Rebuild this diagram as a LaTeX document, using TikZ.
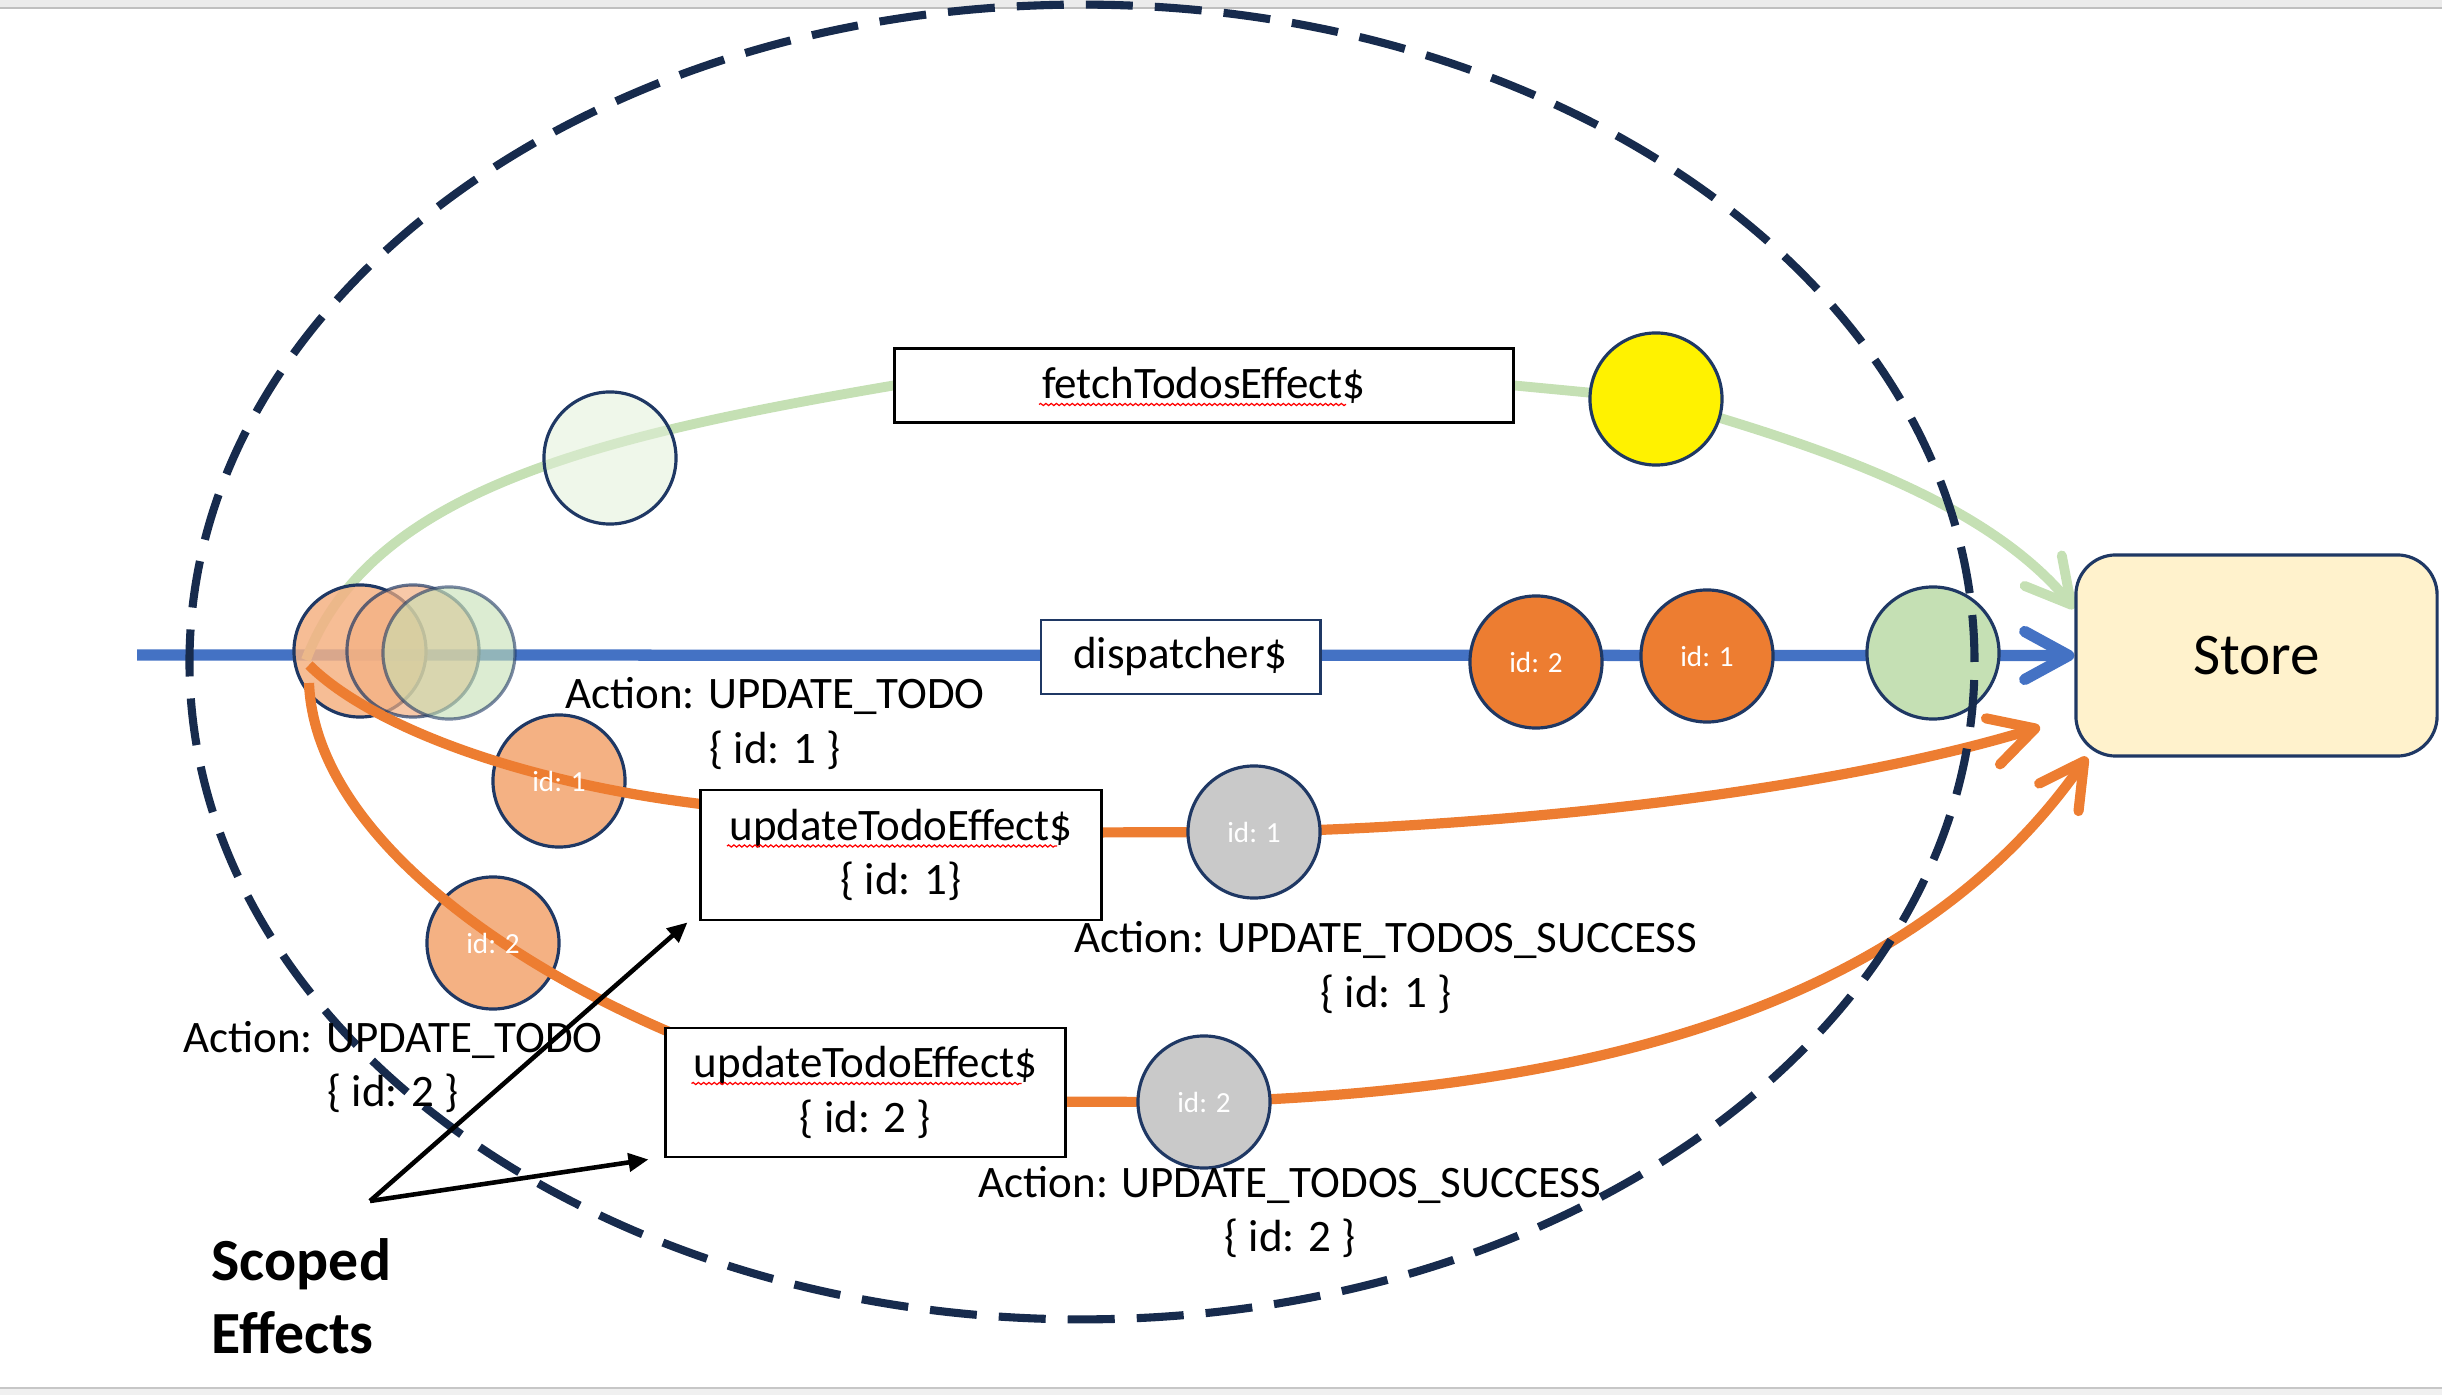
\documentclass[tikz,border=0pt]{standalone}
\usepackage{fontspec}
\setmainfont{Carlito}
\usetikzlibrary{arrows.meta,calc,decorations.pathmorphing}
\definecolor{navy}{HTML}{1F3864}
\definecolor{dashnavy}{HTML}{172B4D}
\definecolor{pblue}{HTML}{4472C4}
\definecolor{pgreen}{HTML}{C5E0B4}
\definecolor{plgreen}{HTML}{E2F0D9}
\definecolor{porange}{HTML}{ED7D31}
\definecolor{plorange}{HTML}{F4B183}
\definecolor{pgray}{HTML}{C9C9C9}
\definecolor{pstore}{HTML}{FFF2CC}
\pgfdeclarelayer{bgband}
\pgfdeclarelayer{lines}
\pgfdeclarelayer{stack}
\pgfdeclarelayer{orangel}
\pgfdeclarelayer{top}
\pgfsetlayers{bgband,lines,stack,orangel,main,top}
\begin{document}
\begin{tikzpicture}[x=0.01cm,y=-0.01cm,
  txt/.style={font=\fontsize{12.8}{15.6}\selectfont,align=center,inner sep=0pt},
  bead/.style={circle,minimum size=1.32cm,inner sep=0pt,draw=navy,line width=0.9pt},
  beadtxt/.style={text=white,font=\fontsize{8.3}{10}\selectfont,inner sep=0pt},
  effbox/.style={draw=black,line width=0.8pt,fill=white,align=center,inner sep=0pt,
                 font=\fontsize{12.8}{15.6}\selectfont},
  openarrow/.style={-{Straight Barb[round,length=4.4mm,width=4.8mm]}},
  blueflow/.style={draw=pblue,line width=3.2pt},
  greenflow/.style={draw=pgreen,line width=2.8pt},
  orangeflow/.style={draw=porange,line width=2.9pt},
  spell/.style={draw=red,line width=0.35pt,decorate,
                decoration={snake,amplitude=0.3pt,segment length=1.5pt}},
  pointer/.style={draw=black,line width=1.3pt,-{Triangle[length=0.2cm,width=0.18cm]}}
]
\useasboundingbox (0,0) rectangle (2442,1395);

% window bands
\begin{pgfonlayer}{bgband}
\fill[black!8] (0,0) rectangle (2442,8);
\draw[black!25,line width=0.6pt] (0,8) -- (2442,8);
\fill[black!6] (0,1388) rectangle (2442,1395);
\draw[black!22,line width=0.6pt] (0,1388) -- (2442,1388);
\end{pgfonlayer}

% main nodes
\node[draw=navy,line width=0.9pt,fill=pstore,rounded corners=0.4cm,
      minimum width=3.61cm,minimum height=2.01cm,inner sep=0pt,
      font=\fontsize{16.8}{20}\selectfont] (store) at (2256.5,655.5) {Store};
\node[effbox,minimum width=6.18cm,minimum height=0.74cm] (fetch) at (1204,385.5) {fetchTodosEffect\$};
\node[effbox,draw=navy,minimum width=2.79cm,minimum height=0.74cm] (disp) at (1180.5,657) {dispatcher\$};
\node[bead,fill=yellow] (yellow) at (1656,399) {};
\node[bead,fill=plgreen,fill opacity=0.55] (lgc) at (610,458) {};
\node[bead,fill=porange] (b2) at (1536,662) {};
\node[bead,fill=porange] (b1) at (1707,656) {};
\node[bead,fill=pgreen] (bgr) at (1933,653) {};
\node[bead,fill=pgray] (g1) at (1254,832) {};
\node[bead,fill=pgray] (g2) at (1204,1102) {};
\node[effbox,minimum width=4.0cm,minimum height=1.30cm] (box1) at (901,855) {updateTodoEffect\$\\\{ id: 1\}};
\node[effbox,minimum width=3.99cm,minimum height=1.29cm] (box2) at (865.5,1092.5) {updateTodoEffect\$\\\{ id: 2 \}};

% coordinates
\coordinate (bstart) at (137,655);
\coordinate (gsrc) at (306,660);
\coordinate (osrcA) at (309,665);
\coordinate (osrcB) at (309,683);
\coordinate (gtip) at ($(store.north west)!0.27!(store.south west)$);
\coordinate (tipA) at (2040,727);
\coordinate (tipB) at (2087,757);
\coordinate (a1in) at ($(box1.north west)!0.115!(box1.south west)$);
\coordinate (a1out) at ($(box1.north east)!0.33!(box1.south east)$);
\coordinate (b2in) at ($(box2.north west)+(6,6)$);
\coordinate (b2out) at ($(box2.north east)!0.57!(box2.south east)$);
\coordinate (ssrc) at (370,1201);

% stacked circles and light orange circles
\begin{pgfonlayer}{stack}
\node[bead,fill=plorange,fill opacity=0.85] (c1) at (360,651) {};
\node[bead,fill=plorange,opacity=0.7] (c2) at (413,651) {};
\node[bead,fill=pgreen,opacity=0.6] (c3) at (449,653) {};
\node[bead,fill=plorange] (o1) at (559,781) {};
\node[bead,fill=plorange] (o2) at (493,943) {};
\end{pgfonlayer}

% blue and green flows
\begin{pgfonlayer}{lines}
\draw[blueflow,openarrow] (bstart) -- (store.west);
\draw[greenflow,openarrow] (gsrc) .. controls (370,490) and (598,436) .. (fetch.west)
   -- (fetch.east) -- (yellow.center) .. controls (1800,441) and (1981,495) .. (gtip);
\end{pgfonlayer}

% orange flows
\begin{pgfonlayer}{orangel}
\draw[orangeflow] (osrcA) .. controls (365,721) and (506,780) .. (a1in);
\draw[orangeflow,openarrow] (a1out) -- (g1.center) .. controls (1550,825) and (1850,785) .. (tipA);
\draw[orangeflow] (osrcB) .. controls (315,830) and (500,960) .. (b2in);
\draw[orangeflow,openarrow] (b2out) -- (g2.center) .. controls (1600,1090) and (1915,1003) .. (tipB);
\end{pgfonlayer}

\begin{pgfonlayer}{top}
% scope ellipse
\draw[dashnavy,line width=2.3pt,dash pattern=on 0.47cm off 0.22cm]
  (1082,662) ellipse [x radius=8.92cm,y radius=6.57cm];

% bead labels
\node[beadtxt] (o1t) at (o1) {id: 1};
\node[beadtxt] (o2t) at (o2) {id: 2};
\node[beadtxt] (b2t) at (b2) {id: 2};
\node[beadtxt] (b1t) at (b1) {id: 1};
\node[beadtxt] (g1t) at (g1) {id: 1};
\node[beadtxt] (g2t) at (g2) {id: 2};

% action labels
\node[txt] (l1) at (775,723.5) {Action: UPDATE\_TODO\\\{ id: 1 \}};
\node[txt] (l2) at (1386,967.5) {Action: UPDATE\_TODOS\_SUCCESS\\\{ id: 1 \}};
\node[txt] (l3) at (393,1067) {Action: UPDATE\_TODO\\\{ id: 2 \}};
\node[txt] (l4) at (1290,1212) {Action: UPDATE\_TODOS\_SUCCESS\\\{ id: 2 \}};

% spell-check underlines
\draw[spell] ($(fetch.center)+(-165,19)$) -- ($(fetch.center)+(142,19)$);
\draw[spell] ($(box1.center)+(-174,-9)$) -- ($(box1.center)+(156,-9)$);
\draw[spell] ($(box2.center)+(-174,-9)$) -- ($(box2.center)+(156,-9)$);

% scoped effects
\node[inner sep=0pt,align=left,anchor=west,font=\fontsize{17}{20.8}\selectfont\bfseries]
  (scoped) at (211,1296) {Scoped\\Effects};
\draw[pointer] (ssrc) -- ($(box1.south west)+(-12,1)$);
\draw[pointer] (ssrc) -- ($(box2.south west)+(-16,1)$);
\end{pgfonlayer}
\end{tikzpicture}
\end{document}
